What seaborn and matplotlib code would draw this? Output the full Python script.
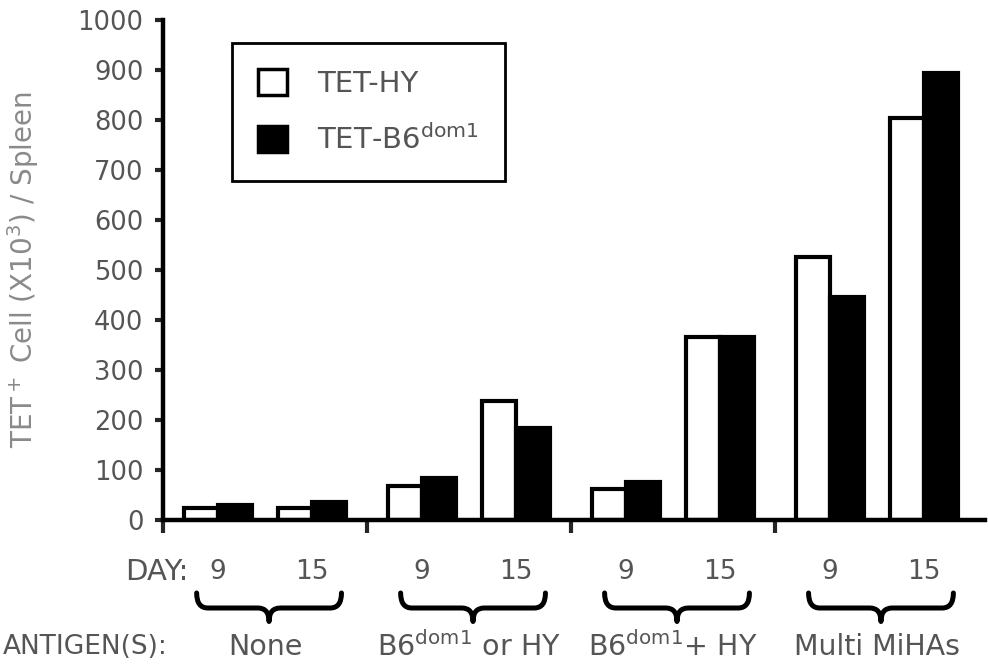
import numpy as np
import pandas as pd
import matplotlib
matplotlib.use('Agg')
import matplotlib.pyplot as plt
import matplotlib.transforms as mtransforms
from matplotlib.patches import Patch, PathPatch
from matplotlib.path import Path
import seaborn as sns

# data (TET+ cells x10^3 per spleen)
groups = ['None', r'B6$^{\mathrm{dom1}}$ or HY', r'B6$^{\mathrm{dom1}}$+ HY', 'Multi MiHAs']
days = ['9', '15']
tet_hy = [24, 24, 68, 238, 62, 366, 526, 804]
tet_b6 = [30, 36, 84, 184, 76, 366, 446, 894]
yticks = [0, 100, 200, 300, 400, 500, 600, 700, 800, 900, 1000]

sns.set_style('ticks')
plt.rcParams['font.family'] = ['DejaVu Sans']
plt.rcParams['mathtext.fontset'] = 'dejavusans'

grey = '#555555'

# positions: each antigen group is 2 units wide, days split inside it
rows = []
pos = []
for gi, g in enumerate(groups):
    for di, d in enumerate(days):
        p = 2 * gi + 1 + (di - 0.5) * 0.92
        pos.append(p)
        k = gi * 2 + di
        rows.append({'pos': p, 'cells': tet_hy[k], 'tet': 'TET-HY'})
        rows.append({'pos': p, 'cells': tet_b6[k], 'tet': 'TET-B6'})
df = pd.DataFrame(rows)

fig = plt.figure(figsize=(9.88, 6.67), dpi=100)
ax = fig.add_axes([163 / 988, 147 / 667, 822 / 988, 500 / 667])

sns.barplot(data=df, x='pos', y='cells', hue='tet', hue_order=['TET-HY', 'TET-B6'],
            native_scale=True, width=0.73, errorbar=None, saturation=1,
            palette={'TET-HY': 'white', 'TET-B6': 'black'},
            edgecolor='black', linewidth=3, legend=False, ax=ax)

ax.set_xlim(0, 8.06)
ax.set_ylim(0, 1000)
ax.set_yticks(yticks)
ax.set_yticklabels([str(t) for t in yticks], fontsize=18.5, color=grey)
ax.tick_params(axis='y', direction='out', length=6, width=3, pad=8)

ax.set_xticks([])
ax.set_xticks([0, 2, 4, 6], minor=True)
ax.tick_params(axis='x', which='minor', direction='out', length=9, width=3)
ax.set_xlabel('')

sns.despine(ax=ax)
for s in ['left', 'bottom']:
    ax.spines[s].set_linewidth(3.2)
    ax.spines[s].set_color('black')

ax.set_ylabel(r'TET$^+$ Cell (X10$^3$) / Spleen', fontsize=20, color='#8a8a8a')
ax.yaxis.set_label_coords(-0.148, 0.5)

trans = mtransforms.blended_transform_factory(ax.transData, ax.transAxes)

# day labels
ax.text(0.25, -0.104, 'DAY:', transform=trans, ha='right', va='center',
        fontsize=21, color=grey)
for i, p in enumerate(pos):
    ax.text(p, -0.104, days[i % 2], transform=trans, ha='center', va='center',
            fontsize=19, color=grey)

# curly braces under each group
def brace(c, w=0.71, top=-0.146, mid=-0.176, tip=-0.203, r=0.11):
    verts = [(c - w, top), (c - w, mid), (c - w + r, mid),
             (c - r, mid), (c, mid), (c, tip),
             (c, mid), (c + r, mid),
             (c + w - r, mid), (c + w, mid), (c + w, top)]
    codes = [Path.MOVETO, Path.CURVE3, Path.CURVE3,
             Path.LINETO, Path.CURVE3, Path.CURVE3,
             Path.CURVE3, Path.CURVE3,
             Path.LINETO, Path.CURVE3, Path.CURVE3]
    patch = PathPatch(Path(verts, codes), facecolor='none', edgecolor='black',
                      linewidth=3.6, capstyle='round', joinstyle='round',
                      transform=trans, clip_on=False)
    ax.add_patch(patch)

for gi, g in enumerate(groups):
    brace(2 * gi + 1.04)
    ax.text(2 * gi + 1.0, -0.254, g, transform=trans, ha='center', va='center',
            fontsize=20.5, color=grey)

fig.text(0.003, 0.03, 'ANTIGEN(S):', ha='left', va='center',
         fontsize=19, color=grey)

handles = [Patch(facecolor='white', edgecolor='black', linewidth=2.5, label='TET-HY'),
           Patch(facecolor='black', edgecolor='black', linewidth=2.5,
                 label=r'TET-B6$^{\mathrm{dom1}}$')]
leg = ax.legend(handles=handles, loc='upper left', bbox_to_anchor=(0.084, 0.954),
                fontsize=21, frameon=True, fancybox=False, edgecolor='black',
                framealpha=1, handlelength=1.0, handleheight=1.0,
                handletextpad=1.0, labelspacing=0.9, borderpad=0.9,
                borderaxespad=0)
leg.get_frame().set_linewidth(2)
for t in leg.get_texts():
    t.set_color(grey)

plt.savefig('out.png', dpi=100)
